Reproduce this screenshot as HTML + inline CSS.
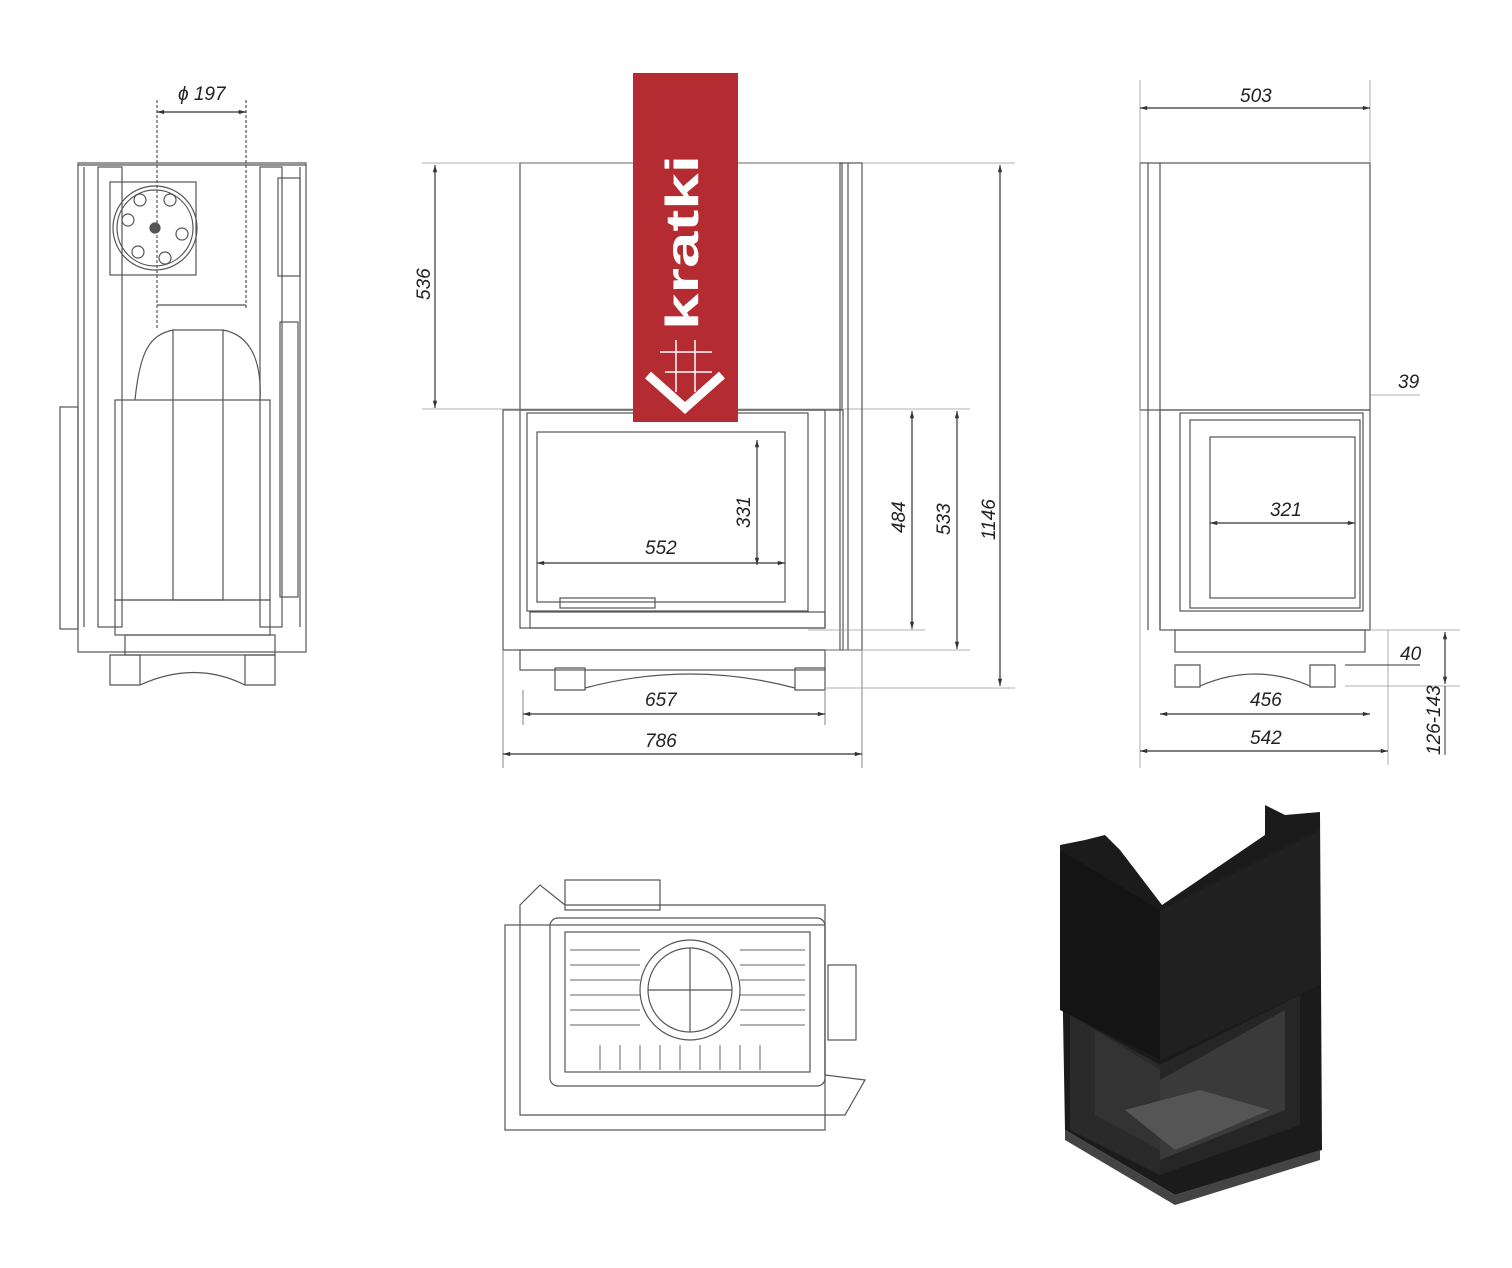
<!DOCTYPE html>
<html><head><meta charset="utf-8"><style>
html,body{margin:0;padding:0;background:#fff;}
svg{display:block}
text{font-family:"Liberation Sans",sans-serif;font-style:italic;font-size:19px;fill:#222}
</style></head><body>
<svg width="1512" height="1268" viewBox="0 0 1512 1268" xmlns="http://www.w3.org/2000/svg">
<defs>
<marker id="a" viewBox="0 0 10 10" refX="10" refY="5" markerWidth="8" markerHeight="6" orient="auto-start-reverse"><path d="M0,2 L10,5 L0,8z" fill="#333"/></marker>
</defs>
<g fill="none" stroke="#555" stroke-width="1.2">
<rect x="78" y="163" width="228" height="489"/>
<line x1="78" y1="165" x2="306" y2="165"/>
<rect x="98" y="167" width="24" height="460"/>
<rect x="260" y="167" width="22" height="460"/>
<line x1="84" y1="167" x2="84" y2="627"/>
<line x1="300" y1="167" x2="300" y2="627"/>
<rect x="60" y="407" width="18" height="222"/>
<rect x="110" y="182" width="86" height="93"/>
<circle cx="155" cy="228" r="42"/><circle cx="155" cy="228" r="38"/>
<circle cx="155" cy="228" r="5" fill="#555"/>
<circle cx="140" cy="200" r="6"/><circle cx="170" cy="200" r="6"/><circle cx="128" cy="220" r="6"/><circle cx="182" cy="234" r="6"/><circle cx="138" cy="252" r="6"/><circle cx="165" cy="258" r="6"/>
<rect x="278" y="178" width="22" height="98"/>
<line x1="157" y1="100" x2="157" y2="330" stroke-dasharray="3,2"/>
<line x1="246" y1="100" x2="246" y2="310" stroke-dasharray="3,2"/>
<line x1="157" y1="305" x2="246" y2="305"/>
<rect x="173" y="330" width="50" height="270"/>
<path d="M135,400 C140,350 150,335 173,330 M223,330 C250,335 262,360 260,400"/>
<rect x="115" y="400" width="155" height="200"/>
<rect x="280" y="322" width="18" height="275"/>
<rect x="115" y="600" width="155" height="35"/>
<rect x="125" y="635" width="150" height="20"/>
<path d="M110,655 h30 v30 h-30z M245,655 h30 v30 h-30z"/>
<path d="M140,685 Q195,660 245,685"/>
<rect x="520" y="163" width="322" height="247"/>
<line x1="422" y1="163" x2="1015" y2="163" stroke="#999" stroke-width="0.8"/>
<line x1="422" y1="409" x2="970" y2="409" stroke="#999" stroke-width="0.8"/>
<rect x="840" y="163" width="22" height="487"/>
<line x1="848" y1="163" x2="848" y2="650"/>
<rect x="503" y="410" width="340" height="240"/>
<rect x="520" y="410" width="305" height="218"/>
<rect x="527" y="413" width="281" height="198"/>
<rect x="537" y="432" width="248" height="170"/>
<rect x="560" y="598" width="95" height="10"/>
<rect x="530" y="612" width="295" height="16"/>
<rect x="520" y="650" width="305" height="20"/>
<path d="M555,668 h30 v22 h-30z M795,668 h30 v22 h-30z"/>
<path d="M585,688 Q690,660 795,688"/>
<line x1="825" y1="688" x2="1015" y2="688" stroke="#999" stroke-width="0.8"/>
<line x1="825" y1="650" x2="970" y2="650" stroke="#999" stroke-width="0.8"/>
<line x1="808" y1="630" x2="925" y2="630" stroke="#999" stroke-width="0.8"/>
<line x1="503" y1="650" x2="503" y2="768" stroke="#999"/>
<line x1="862" y1="650" x2="862" y2="768" stroke="#999"/>
<line x1="523" y1="690" x2="523" y2="725" stroke="#999"/>
<line x1="825" y1="690" x2="825" y2="725" stroke="#999"/>
<rect x="1140" y="163" width="230" height="247"/>
<line x1="1148" y1="163" x2="1148" y2="630"/>
<line x1="1160" y1="163" x2="1160" y2="630"/>
<rect x="1160" y="410" width="210" height="220"/>
<rect x="1180" y="413" width="183" height="198"/>
<rect x="1190" y="420" width="170" height="188"/>
<rect x="1210" y="437" width="145" height="161"/>
<rect x="1175" y="630" width="190" height="22"/>
<path d="M1175,665 h25 v22 h-25z M1310,665 h25 v22 h-25z"/>
<path d="M1200,686 Q1255,662 1310,686"/>
<line x1="1140" y1="80" x2="1140" y2="768" stroke="#999" stroke-width="0.8"/>
<line x1="1370" y1="80" x2="1370" y2="163" stroke="#999" stroke-width="0.8"/>
<line x1="1388" y1="630" x2="1388" y2="765" stroke="#999" stroke-width="0.8"/>
<line x1="1370" y1="630" x2="1460" y2="630" stroke="#999" stroke-width="0.8"/>
<line x1="1345" y1="686" x2="1460" y2="686" stroke="#999" stroke-width="0.8"/>
<line x1="1370" y1="395" x2="1420" y2="395" stroke="#999" stroke-width="0.8"/>
<path d="M520,905 L540,885 L565,905 L825,905 L825,1075 L865,1080 L845,1115 L520,1115 Z"/>
<rect x="505" y="925" width="320" height="205"/>
<rect x="550" y="918" width="275" height="168" rx="8"/>
<rect x="565" y="932" width="245" height="140"/>
<circle cx="690" cy="990" r="50"/><circle cx="690" cy="990" r="42"/>
<line x1="690" y1="948" x2="690" y2="1032"/><line x1="648" y1="990" x2="732" y2="990"/>
<rect x="565" y="880" width="95" height="30"/>
<rect x="828" y="965" width="28" height="75"/>
</g>
<g stroke="#666" stroke-width="1">
<line x1="570" y1="950" x2="640" y2="950"/><line x1="570" y1="965" x2="640" y2="965"/><line x1="570" y1="980" x2="640" y2="980"/><line x1="570" y1="995" x2="640" y2="995"/><line x1="570" y1="1010" x2="640" y2="1010"/><line x1="570" y1="1025" x2="640" y2="1025"/>
<line x1="740" y1="950" x2="805" y2="950"/><line x1="740" y1="965" x2="805" y2="965"/><line x1="740" y1="980" x2="805" y2="980"/><line x1="740" y1="995" x2="805" y2="995"/><line x1="740" y1="1010" x2="805" y2="1010"/><line x1="740" y1="1025" x2="805" y2="1025"/>
<line x1="600" y1="1045" x2="600" y2="1070"/><line x1="620" y1="1045" x2="620" y2="1070"/><line x1="640" y1="1045" x2="640" y2="1070"/><line x1="660" y1="1045" x2="660" y2="1070"/><line x1="680" y1="1045" x2="680" y2="1070"/><line x1="700" y1="1045" x2="700" y2="1070"/><line x1="720" y1="1045" x2="720" y2="1070"/><line x1="740" y1="1045" x2="740" y2="1070"/><line x1="760" y1="1045" x2="760" y2="1070"/>
</g>
<g stroke="#333" stroke-width="1.2" marker-start="url(#a)" marker-end="url(#a)">
<line x1="157" y1="112" x2="246" y2="112"/>
<line x1="435" y1="165" x2="435" y2="408"/>
<line x1="1000" y1="165" x2="1000" y2="686"/>
<line x1="957" y1="411" x2="957" y2="649"/>
<line x1="912" y1="411" x2="912" y2="629"/>
<line x1="757" y1="440" x2="757" y2="565"/>
<line x1="537" y1="563" x2="785" y2="563"/>
<line x1="523" y1="714" x2="825" y2="714"/>
<line x1="503" y1="754" x2="862" y2="754"/>
<line x1="1140" y1="108" x2="1370" y2="108"/>
<line x1="1210" y1="523" x2="1355" y2="523"/>
<line x1="1160" y1="714" x2="1370" y2="714"/>
<line x1="1140" y1="751" x2="1388" y2="751"/>
<line x1="1445" y1="632" x2="1445" y2="684"/>
</g>
<g stroke="#333" stroke-width="1"><line x1="1445" y1="686" x2="1445" y2="755"/><line x1="1345" y1="665" x2="1420" y2="665"/></g>
<text x="178" y="100">ϕ 197</text>
<text transform="translate(430,300) rotate(-90)">536</text>
<text transform="translate(995,540) rotate(-90)">1146</text>
<text transform="translate(950,535) rotate(-90)">533</text>
<text transform="translate(905,533) rotate(-90)">484</text>
<text transform="translate(750,528) rotate(-90)">331</text>
<text x="645" y="554">552</text>
<text x="645" y="706">657</text>
<text x="645" y="747">786</text>
<text x="1240" y="102">503</text>
<text x="1270" y="516">321</text>
<text x="1250" y="706">456</text>
<text x="1250" y="744">542</text>
<text x="1398" y="388">39</text>
<text x="1400" y="660">40</text>
<text transform="translate(1440,755) rotate(-90)">126-143</text>
<rect x="633" y="73" width="105" height="349" fill="#b52b32"/>
<text transform="translate(698,330) rotate(-90)" textLength="175" lengthAdjust="spacingAndGlyphs" style="font-style:normal;font-weight:bold;font-size:46px;fill:#fff">kratki</text>
<path d="M648,375 L685,408 L722,375" fill="none" stroke="#fff" stroke-width="9"/>
<g stroke="#fff" stroke-width="1.5"><line x1="676" y1="340" x2="676" y2="392"/><line x1="695" y1="340" x2="695" y2="392"/><line x1="660" y1="352" x2="712" y2="352"/><line x1="665" y1="372" x2="712" y2="372"/></g>
<g>
<path d="M1060,845 L1085,840 L1105,835 L1120,850 L1162,905 L1265,835 L1265,805 L1285,815 L1320,812 L1322,1150 L1175,1195 L1065,1130 Z" fill="#1b1b1b"/>
<path d="M1060,850 L1160,910 L1160,1060 L1060,1010 Z" fill="#141414"/>
<path d="M1160,910 L1320,830 L1320,985 L1160,1060 Z" fill="#202020"/>
<path d="M1070,1015 L1160,1065 L1160,1175 L1070,1130 Z" fill="#2a2a2a"/>
<path d="M1095,1030 L1160,1070 L1160,1150 L1095,1115 Z" fill="#333"/>
<path d="M1160,1065 L1300,995 L1300,1125 L1160,1175 Z" fill="#262626"/>
<path d="M1160,1080 L1285,1010 L1285,1110 L1160,1160 Z" fill="#3a3a3a"/>
<path d="M1125,1110 L1200,1090 L1270,1110 L1175,1150 Z" fill="#555"/>
<path d="M1065,1130 L1175,1195 L1320,1150 L1320,1160 L1175,1205 L1065,1140 Z" fill="#444"/>
</g>
</svg>
</body></html>
